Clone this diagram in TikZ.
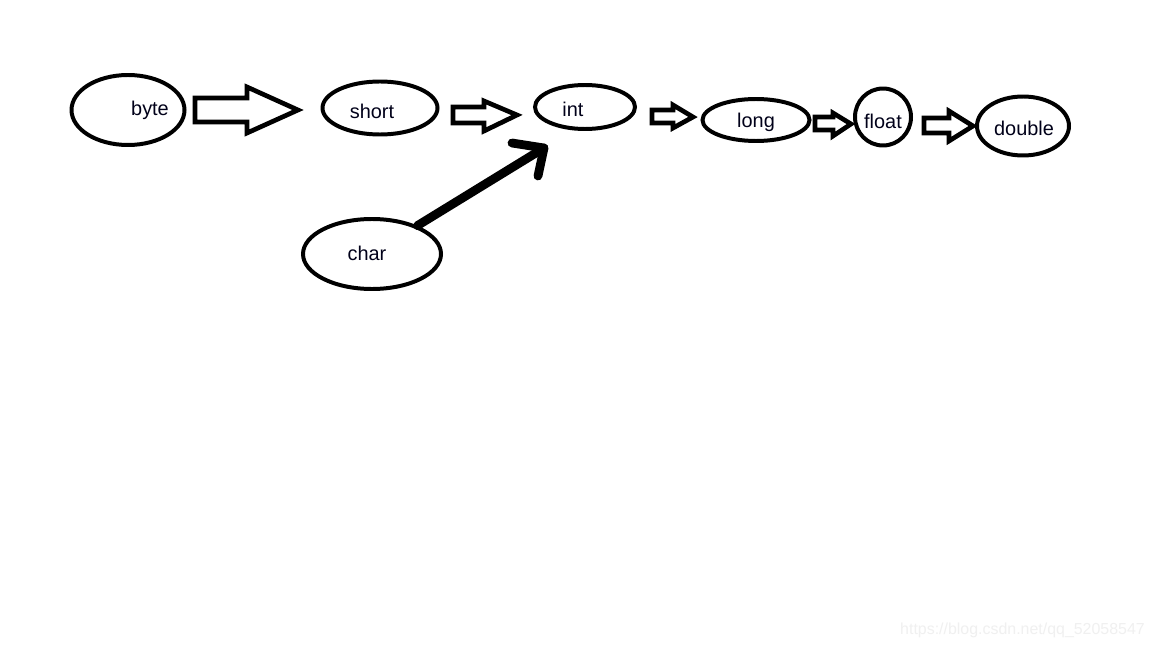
\documentclass[tikz,border=0pt]{standalone}
\usepackage{fontspec}
\setmainfont{Liberation Sans}
\usetikzlibrary{shapes.geometric}
\begin{document}
\begin{tikzpicture}[x=0.03cm,y=-0.03cm,
  oval/.style={draw=black,line width=3.4pt,ellipse,inner sep=0pt,fill=none},
  lbl/.style={inner sep=0pt,font=\fontsize{17}{19}\selectfont,text=black!90!blue},
  blockarrow/.style={draw=black,line width=4pt,line join=miter,miter limit=4},
  thickarrow/.style={draw=black,line width=7.5pt,line cap=round,line join=round},
  wm/.style={inner sep=0pt,font=\fontsize{13.6}{16}\selectfont,text=black!6}]
\useasboundingbox (0,0) rectangle (1152,648);
\fill[white] (0,0) rectangle (1152,648);
% ellipses
\node[oval,minimum width=113*0.03cm,minimum height=70*0.03cm] (byte) at (128,110) {};
\node[oval,minimum width=115*0.03cm,minimum height=53*0.03cm] (short) at (380,108) {};
\node[oval,minimum width=100*0.03cm,minimum height=44*0.03cm] (int) at (585,107) {};
\node[oval,minimum width=107*0.03cm,minimum height=42*0.03cm] (long) at (756,120) {};
\node[oval,minimum width=56*0.03cm,minimum height=57*0.03cm] (float) at (883,117) {};
\node[oval,minimum width=92*0.03cm,minimum height=59*0.03cm] (double) at (1023,126) {};
\node[oval,minimum width=138*0.03cm,minimum height=70*0.03cm] (char) at (372,254) {};
% labels
\node[lbl] (tbyte) at (150,110) {byte};
\node[lbl] (tshort) at (372,111) {short};
\node[lbl] (tint) at (573,109) {int};
\node[lbl] (tlong) at (756,122) {long};
\node[lbl] (tfloat) at (883,121) {float};
\node[lbl] (tdouble) at (1024,128) {double};
\node[lbl] (tchar) at (367,253) {char};
% block arrows
\draw[blockarrow] (195,98) -- (247,98) -- (247,87) -- (298,110) -- (247,133) -- (247,122) -- (195,122) -- cycle;
\draw[blockarrow] (453,107) -- (484,107) -- (484,101) -- (517,115) -- (484,131) -- (484,123) -- (453,123) -- cycle;
\draw[blockarrow] (652,110) -- (673,110) -- (673,105) -- (693,117) -- (673,128) -- (673,123) -- (652,123) -- cycle;
\draw[blockarrow] (815,117) -- (833,117) -- (833,113) -- (851,124) -- (833,136) -- (833,130) -- (815,130) -- cycle;
\draw[blockarrow] (924,118) -- (949,118) -- (949,111) -- (973,126) -- (949,141) -- (949,133) -- (924,133) -- cycle;
% char -> int
\coordinate (tip) at (544,148);
\draw[thickarrow] (char.32) -- (tip);
\draw[thickarrow] (512,143) -- (tip) -- (538,176);
% watermark
\node[wm,anchor=west] (wmark) at (900,630) {https://blog.csdn.net/qq\_52058547};
\end{tikzpicture}
\end{document}
